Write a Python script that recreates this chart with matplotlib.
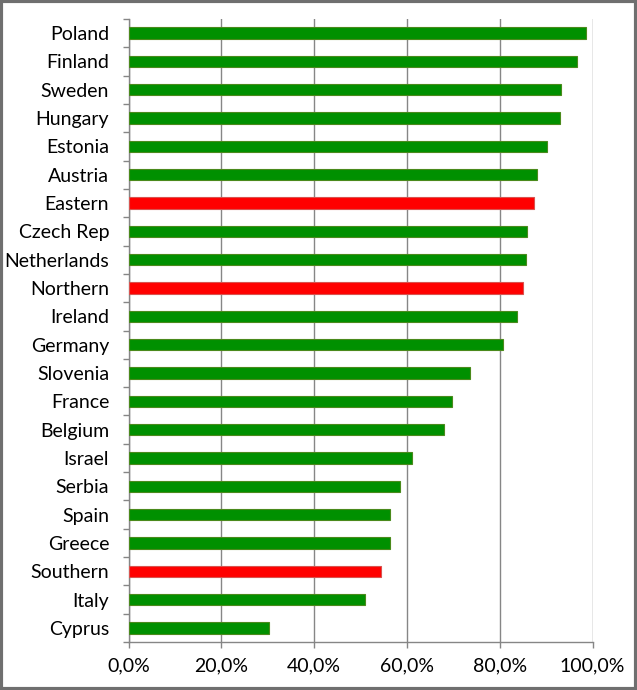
import matplotlib
matplotlib.use("Agg")
import matplotlib.pyplot as plt
from matplotlib.ticker import FuncFormatter, FixedLocator, MultipleLocator
from matplotlib.patches import Rectangle

countries = ["Poland", "Finland", "Sweden", "Hungary", "Estonia", "Austria", "Eastern",
             "Czech Rep", "Netherlands", "Northern", "Ireland", "Germany", "Slovenia",
             "France", "Belgium", "Israel", "Serbia", "Spain", "Greece", "Southern",
             "Italy", "Cyprus"]
values = [98.5, 96.6, 93.3, 93.0, 90.1, 88.0, 87.4, 85.9, 85.6, 85.1, 83.8, 80.8, 73.5,
          69.8, 67.9, 61.1, 58.4, 56.4, 56.4, 54.5, 51.0, 30.2]
regions = {"Eastern", "Northern", "Southern"}

plt.rcParams['font.family'] = ['Lato', 'DejaVu Sans']

fig = plt.figure(figsize=(6.37, 6.9), dpi=100)
ax = fig.add_axes([128.6 / 637, 1 - 642 / 690, (592.5 - 128.6) / 637, (642 - 19) / 690])

n = len(countries)
ypos = list(range(n))
colors = ["#ff0000" if c in regions else "#009000" for c in countries]
edges = ["#d9534f" if c in regions else "#4a8a1c" for c in countries]
ax.barh(ypos, values, height=0.4, color=colors, edgecolor=edges, linewidth=0.8, zorder=3)

ax.set_xlim(0, 100)
ax.set_ylim(n - 0.5, -0.5)
ax.xaxis.set_major_locator(MultipleLocator(20))
ax.xaxis.set_major_formatter(FuncFormatter(lambda v, p: f"{v:.1f}%".replace(".", ",")))
ax.grid(axis='x', color='#868686', linewidth=1.0, zorder=1)
ax.set_axisbelow(True)

ax.set_yticks(ypos)
ax.set_yticklabels(countries)
ax.yaxis.set_minor_locator(FixedLocator([i - 0.5 for i in range(n + 1)]))
ax.tick_params(axis='y', which='major', length=0, pad=14, labelsize=14)
ax.tick_params(axis='y', which='minor', length=4, color='#868686', width=1)
ax.tick_params(axis='x', which='major', length=4, color='#868686', width=1, pad=7, labelsize=14)

for s in ['top', 'right']:
    ax.spines[s].set_visible(False)
for s in ['left', 'bottom']:
    ax.spines[s].set_color('#868686')
    ax.spines[s].set_linewidth(1.0)

fig.patches.append(Rectangle((0.002, 0.002), 0.996, 0.996, transform=fig.transFigure,
                             fill=False, edgecolor='#6f6f6f', linewidth=3))

fig.savefig("out.png", dpi=100, facecolor='white')
